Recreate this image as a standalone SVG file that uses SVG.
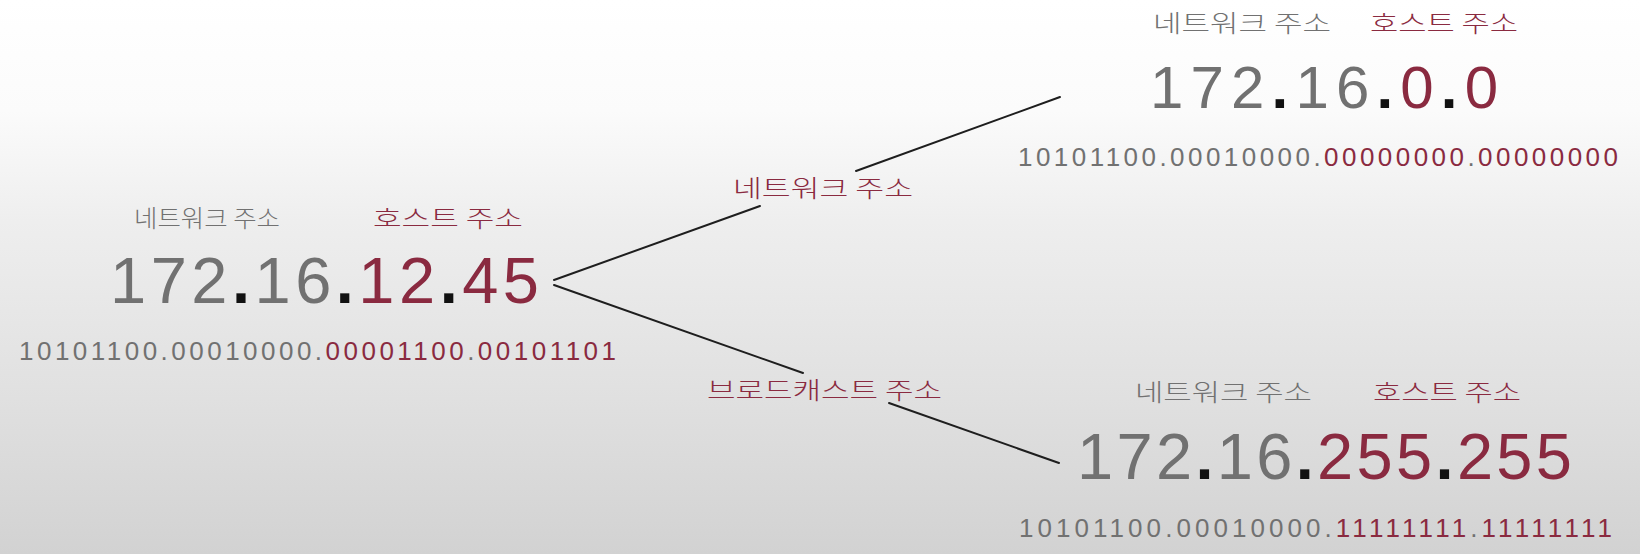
<svg xmlns="http://www.w3.org/2000/svg" width="1640" height="554" viewBox="0 0 1640 554">
<defs>
<linearGradient id="bg" x1="0" y1="0" x2="0" y2="1">
<stop offset="0" stop-color="#ffffff"/>
<stop offset="0.2" stop-color="#fbfbfb"/>
<stop offset="0.4" stop-color="#eeeeee"/>
<stop offset="0.72" stop-color="#e0e0e0"/>
<stop offset="1" stop-color="#d2d2d2"/>
</linearGradient>
</defs>
<style>
.ko{font-family:"Noto Sans CJK KR","Noto Sans",sans-serif;font-size:24px;font-weight:300}
.big{font-family:"Liberation Sans","DejaVu Sans",sans-serif;font-size:65px}
.bin{font-family:"Liberation Sans","DejaVu Sans",sans-serif;font-size:26px}
.g{fill:#717171}
.r{fill:#8a2a40}
.k{fill:#111111;font-weight:bold}
.ln{stroke:#1e1e1e;stroke-width:2;fill:none;stroke-linecap:round}
</style>
<rect width="1640" height="554" fill="url(#bg)"/>
<g id="connectors">
<line class="ln" x1="554" y1="280" x2="760" y2="206"/>
<line class="ln" x1="856" y1="171" x2="1060" y2="97"/>
<line class="ln" x1="554" y1="285" x2="803" y2="373"/>
<line class="ln" x1="889" y1="403" x2="1059" y2="463"/>
<text class="ko r" x="733" y="197" textLength="180" lengthAdjust="spacingAndGlyphs">네트워크 주소</text>
<text class="ko r" x="707" y="399" textLength="235" lengthAdjust="spacingAndGlyphs">브로드캐스트 주소</text>
</g>
<g id="node-source">
<text class="ko g" x="134" y="227" textLength="146" lengthAdjust="spacingAndGlyphs">네트워크 주소</text>
<text class="ko r" x="373" y="227" textLength="150" lengthAdjust="spacingAndGlyphs">호스트 주소</text>
<text class="big" x="110" y="303" textLength="429" lengthAdjust="spacing"><tspan class="g">172</tspan><tspan class="k">.</tspan><tspan class="g">16</tspan><tspan class="k">.</tspan><tspan class="r">12</tspan><tspan class="k">.</tspan><tspan class="r">45</tspan></text>
<text class="bin" x="19" y="360" textLength="597" lengthAdjust="spacing"><tspan class="g">10101100.00010000.</tspan><tspan class="r">00001100</tspan><tspan class="g">.</tspan><tspan class="r">00101101</tspan></text>
</g>
<g id="node-network">
<text class="ko g" x="1153" y="32" textLength="178" lengthAdjust="spacingAndGlyphs">네트워크 주소</text>
<text class="ko r" x="1370" y="32" textLength="148" lengthAdjust="spacingAndGlyphs">호스트 주소</text>
<text class="big" x="1150" y="108" textLength="348" lengthAdjust="spacing" style="font-size:60px"><tspan class="g">172</tspan><tspan class="k">.</tspan><tspan class="g">16</tspan><tspan class="k">.</tspan><tspan class="r">0</tspan><tspan class="k">.</tspan><tspan class="r">0</tspan></text>
<text class="bin" x="1018" y="166" textLength="600" lengthAdjust="spacing"><tspan class="g">10101100.00010000.</tspan><tspan class="r">00000000</tspan><tspan class="g">.</tspan><tspan class="r">00000000</tspan></text>
</g>
<g id="node-broadcast">
<text class="ko g" x="1135" y="401" textLength="177" lengthAdjust="spacingAndGlyphs">네트워크 주소</text>
<text class="ko r" x="1373" y="401" textLength="148" lengthAdjust="spacingAndGlyphs">호스트 주소</text>
<text class="big" x="1077" y="479" textLength="495" lengthAdjust="spacing"><tspan class="g">172</tspan><tspan class="k">.</tspan><tspan class="g">16</tspan><tspan class="k">.</tspan><tspan class="r">255</tspan><tspan class="k">.</tspan><tspan class="r">255</tspan></text>
<text class="bin" x="1019" y="537" textLength="593" lengthAdjust="spacing"><tspan class="g">10101100.00010000.</tspan><tspan class="r">11111111</tspan><tspan class="g">.</tspan><tspan class="r">11111111</tspan></text>
</g>
</svg>
